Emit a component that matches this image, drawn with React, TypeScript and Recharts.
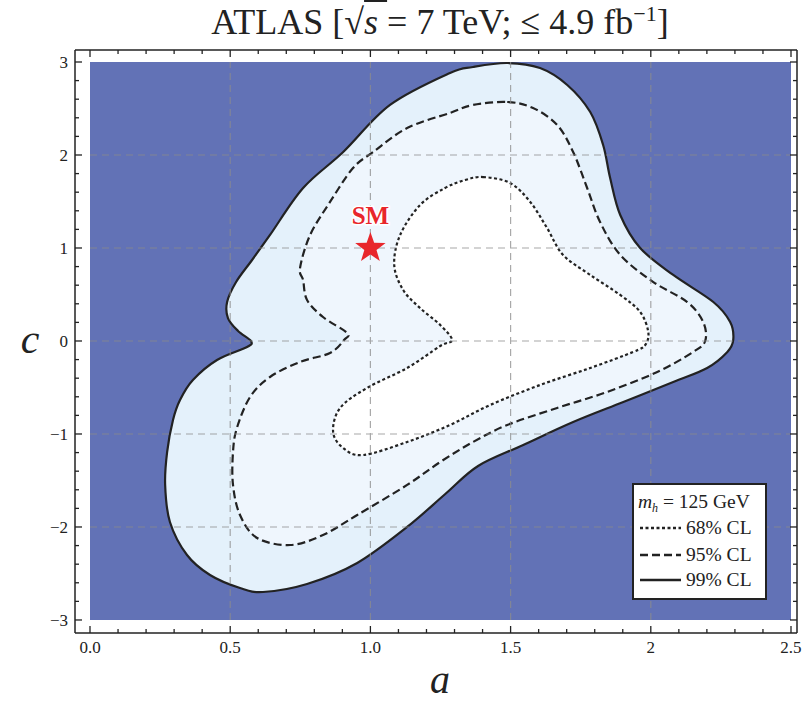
import React from 'react'
import { ScatterChart, Scatter, XAxis, YAxis } from 'recharts'

type Pt = [number, number]

// axis ticks (minor every 0.1 / 0.2, labels only on the majors)
const X_TICKS = [0, 0.1, 0.2, 0.3, 0.4, 0.5, 0.6, 0.7, 0.8, 0.9, 1, 1.1, 1.2, 1.3, 1.4, 1.5, 1.6, 1.7, 1.8, 1.9, 2, 2.1, 2.2, 2.3, 2.4, 2.5]
const Y_TICKS = [-3, -2.8, -2.6, -2.4, -2.2, -2, -1.8, -1.6, -1.4, -1.2, -1, -0.8, -0.6, -0.4, -0.2, 0, 0.2, 0.4, 0.6, 0.8, 1, 1.2, 1.4, 1.6, 1.8, 2, 2.2, 2.4, 2.6, 2.8, 3]
const X_MAJOR = [0, 0.5, 1, 1.5, 2, 2.5]
const X_LABELS = ['0.0', '0.5', '1.0', '1.5', '2', '2.5']
const Y_MAJOR = [-3, -2, -1, 0, 1, 2, 3]
const Y_LABELS = ['−3', '−2', '−1', '0', '1', '2', '3']
const GRID_A = [0.5, 1, 1.5, 2]
const GRID_C = [-2, -1, 0, 1, 2]

const PLOT_BOX: Pt[] = [[0, -3], [2.5, -3], [2.5, 3], [0, 3]]
const SM: Pt[] = [[1, 1]]

// contours (a, c), clockwise from the top
const CL99: Pt[] = [
  [1.488, 2.989], [1.605, 2.935], [1.702, 2.753], [1.784, 2.462], [1.830, 2.108], [1.855, 1.753],
  [1.891, 1.355], [1.962, 1.0], [2.080, 0.710], [2.223, 0.419], [2.283, 0.204], [2.294, 0.011],
  [2.273, -0.118], [2.201, -0.290], [2.080, -0.441], [1.902, -0.656], [1.723, -0.871], [1.545, -1.118],
  [1.384, -1.344], [1.267, -1.645], [1.131, -2.0], [0.953, -2.387], [0.774, -2.613], [0.617, -2.699],
  [0.535, -2.656], [0.428, -2.516], [0.346, -2.301], [0.285, -1.946], [0.268, -1.548], [0.275, -1.194],
  [0.296, -0.849], [0.321, -0.634], [0.367, -0.419], [0.453, -0.204], [0.560, -0.065], [0.574, 0.0],
  [0.528, 0.108], [0.492, 0.247], [0.489, 0.419], [0.521, 0.634], [0.578, 0.871], [0.642, 1.140],
  [0.760, 1.645], [0.903, 2.032], [1.070, 2.538], [1.284, 2.882], [1.366, 2.946],
]
const CL95: Pt[] = [
  [1.488, 2.570], [1.580, 2.505], [1.666, 2.323], [1.723, 2.032], [1.773, 1.645], [1.819, 1.280],
  [1.891, 0.925], [2.009, 0.634], [2.130, 0.419], [2.187, 0.204], [2.194, 0.0], [2.151, -0.118],
  [2.023, -0.333], [1.844, -0.548], [1.666, -0.720], [1.488, -0.903], [1.366, -1.086], [1.249, -1.301],
  [1.131, -1.548], [0.953, -1.871], [0.831, -2.086], [0.714, -2.194], [0.596, -2.118], [0.535, -1.871],
  [0.510, -1.548], [0.510, -1.194], [0.524, -0.935], [0.571, -0.602], [0.642, -0.387], [0.749, -0.226],
  [0.856, -0.129], [0.906, 0.011], [0.917, 0.086], [0.831, 0.258], [0.774, 0.441], [0.760, 0.656],
  [0.749, 0.785], [0.785, 1.140], [0.856, 1.495], [0.938, 1.860], [1.010, 2.032], [1.131, 2.290],
  [1.284, 2.452], [1.366, 2.538],
]
const CL68: Pt[] = [
  [1.402, 1.763], [1.498, 1.699], [1.570, 1.495], [1.630, 1.215], [1.687, 0.925], [1.784, 0.710],
  [1.891, 0.495], [1.962, 0.312], [1.991, 0.097], [1.980, -0.043], [1.937, -0.118], [1.784, -0.290],
  [1.605, -0.473], [1.427, -0.688], [1.284, -0.903], [1.131, -1.086], [0.974, -1.226], [0.903, -1.151],
  [0.867, -0.978], [0.892, -0.720], [0.988, -0.505], [1.131, -0.290], [1.249, -0.054], [1.291, 0.011],
  [1.249, 0.172], [1.177, 0.355], [1.117, 0.548], [1.085, 0.817], [1.106, 1.140], [1.177, 1.462],
  [1.266, 1.645], [1.338, 1.731],
]

const X_DOMAIN = [-0.0535, 2.5214]
const Y_DOMAIN = [-3.14, 3.129]

const BLUE = '#6272b6'
const FILL99 = '#e4f1fb'
const FILL95 = '#eff6fd'
const INK = '#222'
const SERIF = '"Liberation Serif", "DejaVu Serif", serif'

const toXY = (pts: Pt[]) => pts.map(([x, y]) => ({ x, y }))
const gridData = [
  ...GRID_A.flatMap(a => [{ x: a, y: -3 }, { x: a, y: 3 }]),
  ...GRID_C.flatMap(c => [{ x: 0, y: c }, { x: 2.5, y: c }]),
]

const majorIndex = (v: number, majors: number[]) => majors.findIndex(m => Math.abs(m - v) < 1e-6)

// closed catmull-rom through the projected points
function closedSmooth(pts: { x: number; y: number }[]) {
  const n = pts.length
  let d = `M${pts[0].x},${pts[0].y}`
  for (let i = 0; i < n; i++) {
    const p0 = pts[(i - 1 + n) % n], p1 = pts[i], p2 = pts[(i + 1) % n], p3 = pts[(i + 2) % n]
    d += ` C${p1.x + (p2.x - p0.x) / 6},${p1.y + (p2.y - p0.y) / 6} ${p2.x - (p3.x - p1.x) / 6},${p2.y - (p3.y - p1.y) / 6} ${p2.x},${p2.y}`
  }
  return d + 'Z'
}

const contourLine = (fill: string, dash?: string) => (p: any) => (
  <path d={closedSmooth(p.points)} fill={fill} stroke={INK} strokeWidth={2.2} strokeDasharray={dash} />
)

const boxLine = (p: any) => (
  <path d={'M' + p.points.map((q: any) => `${q.x},${q.y}`).join('L') + 'Z'} fill={BLUE} stroke="none" />
)

const gridLine = (p: any) => {
  let d = ''
  for (let i = 0; i + 1 < p.points.length; i += 2) {
    d += `M${p.points[i].x},${p.points[i].y}L${p.points[i + 1].x},${p.points[i + 1].y}`
  }
  return <path d={d} fill="none" stroke="#8c8c8c" strokeOpacity={0.75} strokeWidth={1.2} strokeDasharray="7 5" />
}

const noDot = () => <g />

function SmMarker({ cx, cy }: any) {
  const pts: string[] = []
  for (let k = 0; k < 10; k++) {
    const r = k % 2 === 0 ? 16 : 6.4
    const ang = -Math.PI / 2 + (k * Math.PI) / 5
    pts.push(`${cx + r * Math.cos(ang)},${cy + r * Math.sin(ang)}`)
  }
  return (
    <g>
      <polygon points={pts.join(' ')} fill="#e8262b" />
      <text x={cx} y={cy - 24} textAnchor="middle" fontFamily={SERIF} fontWeight="bold" fontSize={25}
        fill="#e8262b" stroke="#fff" strokeWidth={3} paintOrder="stroke">SM</text>
    </g>
  )
}

function BottomTick({ x, y, payload }: any) {
  const i = majorIndex(payload.value, X_MAJOR)
  return (
    <g>
      <line x1={x} y1={y} x2={x} y2={y - (i >= 0 ? 7 : 4)} stroke={INK} strokeWidth={1.3} />
      {i >= 0 && (
        <text x={x} y={y + 20} textAnchor="middle" fontFamily={SERIF} fontSize={17} fill={INK}>{X_LABELS[i]}</text>
      )}
    </g>
  )
}

function TopTick({ x, y, payload }: any) {
  const i = majorIndex(payload.value, X_MAJOR)
  return <line x1={x} y1={y} x2={x} y2={y + (i >= 0 ? 7 : 4)} stroke={INK} strokeWidth={1.3} />
}

function LeftTick({ x, y, payload }: any) {
  const i = majorIndex(payload.value, Y_MAJOR)
  return (
    <g>
      <line x1={x} y1={y} x2={x + (i >= 0 ? 7 : 4)} y2={y} stroke={INK} strokeWidth={1.3} />
      {i >= 0 && (
        <text x={x - 7} y={y + 6} textAnchor="end" fontFamily={SERIF} fontSize={17} fill={INK}>{Y_LABELS[i]}</text>
      )}
    </g>
  )
}

function RightTick({ x, y, payload }: any) {
  const i = majorIndex(payload.value, Y_MAJOR)
  return <line x1={x} y1={y} x2={x - (i >= 0 ? 7 : 4)} y2={y} stroke={INK} strokeWidth={1.3} />
}

function LegendBox() {
  const rows = [
    { label: '68% CL', dash: '3 2.5', y: 45 },
    { label: '95% CL', dash: '8 4', y: 72 },
    { label: '99% CL', dash: undefined, y: 97 },
  ]
  return (
    <svg width={135} height={117} style={{ position: 'absolute', left: 632, top: 483 }}>
      <rect x={1} y={1} width={133} height={115} fill="#fff" stroke={INK} strokeWidth={2} />
      <text x={6} y={25} fontFamily={SERIF} fontSize={19.5} fill={INK}>
        <tspan fontStyle="italic">m</tspan>
        <tspan fontStyle="italic" fontSize={12} dy={4}>h</tspan>
        <tspan dy={-4}> = 125 GeV</tspan>
      </text>
      {rows.map(r => (
        <g key={r.label}>
          <line x1={8} x2={49} y1={r.y} y2={r.y} stroke={INK} strokeWidth={2.5} strokeDasharray={r.dash} />
          <text x={54} y={r.y + 6} fontFamily={SERIF} fontSize={19.5} fill={INK}>{r.label}</text>
        </g>
      ))}
    </svg>
  )
}

export default function App() {
  return (
    <div style={{ position: 'absolute', left: 0, top: 0, width: 809, height: 702, background: '#fff', overflow: 'hidden' }}>
      <ScatterChart width={809} height={702} margin={{ top: 40, right: 2, bottom: 39, left: 45 }}>
        <XAxis type="number" dataKey="x" domain={X_DOMAIN} ticks={X_TICKS} allowDataOverflow interval={0}
          height={30} tickSize={0} tickMargin={0} tickLine={false} tick={(p: any) => <BottomTick {...p} />}
          axisLine={{ stroke: INK, strokeWidth: 1.5 }} />
        <XAxis xAxisId="top" orientation="top" type="number" dataKey="x" domain={X_DOMAIN} ticks={X_TICKS}
          allowDataOverflow interval={0} height={10} tickSize={0} tickMargin={0} tickLine={false}
          tick={(p: any) => <TopTick {...p} />} axisLine={{ stroke: INK, strokeWidth: 1.5 }} />
        <YAxis type="number" dataKey="y" domain={Y_DOMAIN} ticks={Y_TICKS} allowDataOverflow interval={0}
          width={30} tickSize={0} tickMargin={0} tickLine={false} tick={(p: any) => <LeftTick {...p} />}
          axisLine={{ stroke: INK, strokeWidth: 1.5 }} />
        <YAxis yAxisId="right" orientation="right" type="number" dataKey="y" domain={Y_DOMAIN} ticks={Y_TICKS}
          allowDataOverflow interval={0} width={10} tickSize={0} tickMargin={0} tickLine={false}
          tick={(p: any) => <RightTick {...p} />} axisLine={{ stroke: INK, strokeWidth: 1.5 }} />

        <Scatter data={toXY(PLOT_BOX)} shape={noDot} line={boxLine} lineType="joint" isAnimationActive={false} />
        <Scatter data={toXY(CL99)} shape={noDot} line={contourLine(FILL99)} lineType="joint" isAnimationActive={false} />
        <Scatter data={toXY(CL95)} shape={noDot} line={contourLine(FILL95, '8 4')} lineType="joint" isAnimationActive={false} />
        <Scatter data={toXY(CL68)} shape={noDot} line={contourLine('#ffffff', '3 2.5')} lineType="joint" isAnimationActive={false} />
        <Scatter data={gridData} shape={noDot} line={gridLine} lineType="joint" isAnimationActive={false} />
        <Scatter data={toXY(SM)} shape={(p: any) => <SmMarker {...p} />} isAnimationActive={false} />
      </ScatterChart>

      <div style={{ position: 'absolute', left: 140, top: 1, width: 600, textAlign: 'center', fontFamily: SERIF, fontSize: 36, color: INK, whiteSpace: 'nowrap' }}>
        ATLAS [√<span style={{ fontStyle: 'italic', textDecoration: 'overline' }}>s </span>= 7 TeV; ≤ 4.9 fb
        <sup style={{ fontSize: 22 }}>−1</sup>]
      </div>
      <svg width={809} height={702} style={{ position: 'absolute', left: 0, top: 0, pointerEvents: 'none' }}>
        <text x={30} y={353} textAnchor="middle" fontFamily={SERIF} fontStyle="italic" fontSize={42} fill={INK}>c</text>
        <text x={440} y={693} textAnchor="middle" fontFamily={SERIF} fontStyle="italic" fontSize={40} fill={INK}>a</text>
      </svg>
      <LegendBox />
    </div>
  )
}
